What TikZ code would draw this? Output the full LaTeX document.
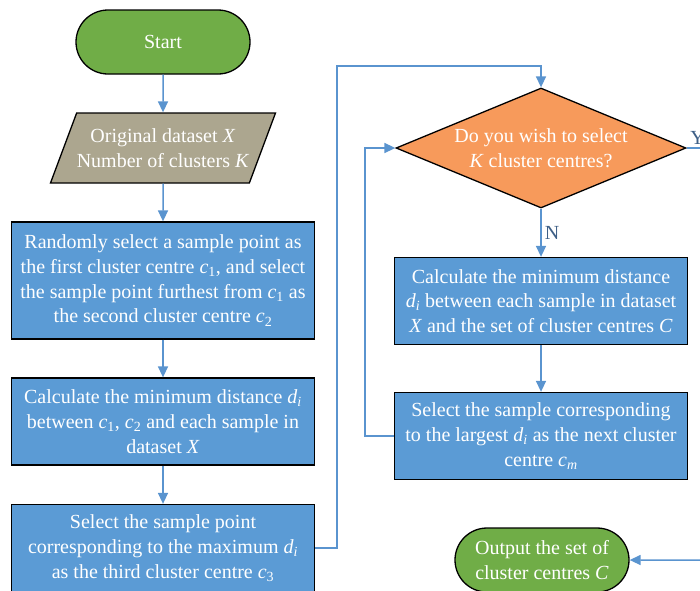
\documentclass[tikz,border=0pt]{standalone}
\usepackage{xcolor}
\usepackage{fontspec}
\setmainfont{Liberation Serif}
\usetikzlibrary{shapes.geometric, shapes.misc, arrows.meta}

\definecolor{termgreen}{HTML}{70AD47}
\definecolor{iotan}{HTML}{ACA68F}
\definecolor{procblue}{HTML}{5B9BD5}
\definecolor{askorange}{HTML}{F79A5B}
\definecolor{flowblue}{HTML}{5A94CF}
\definecolor{labblue}{HTML}{3E5F86}

\newcommand{\vi}[1]{\textit{#1}}
\newcommand{\vsub}[2]{\textit{#1}\textsubscript{#2}}

\begin{document}
\begin{tikzpicture}[x=1pt, y=-1pt,
		font=\fontsize{20}{24.7}\selectfont,
		box/.style={draw=black, line width=1.3pt, text=white, align=center, inner sep=0pt},
		term/.style={box, fill=termgreen, rounded rectangle, minimum width=174pt, minimum height=64pt},
		io/.style={box, fill=iotan, trapezium, trapezium left angle=56, trapezium right angle=124, trapezium stretches body, minimum width=225pt, minimum height=70pt},
		proc/.style={box, fill=procblue, rectangle, minimum width=303pt, minimum height=87pt},
		proc2/.style={proc, minimum width=293pt},
		ask/.style={draw=black, line width=1.3pt, fill=askorange, diamond, minimum width=290pt, minimum height=120pt, inner sep=0pt},
		flow/.style={draw=flowblue, line width=1.5pt, -{Triangle[length=11pt, width=10pt]}},
		line/.style={draw=flowblue, line width=1.5pt},
		lab/.style={text=labblue, inner sep=3pt}]
	\useasboundingbox (0,0) rectangle (700,590);
	\clip (0,0) rectangle (700,590);
	\node [term] (start) at (163,42) {Start};
	\node [io] (data) at (163,148) {Original dataset \vi{X}\\ Number of clusters \vi{K}};
	\node [proc, minimum height=117pt] (pick12) at (163,280.5) {Randomly select a sample point as\\ the first cluster centre \vsub{c}{1}, and select\\ the sample point furthest from \vsub{c}{1} as\\ the second cluster centre \vsub{c}{2}};
	\node [proc] (dist12) at (163,421.5) {Calculate the minimum distance \vsub{d}{\vi{i}}\\ between \vsub{c}{1}, \vsub{c}{2} and each sample in\\ dataset \vi{X}};
	\node [proc] (pick3) at (163,548) {Select the sample point\\ corresponding to the maximum \vsub{d}{\vi{i}}\\ as the third cluster centre \vsub{c}{3}};
	\node [ask, label={[text=white, align=center]center:{Do you wish to select\\ \vi{K} cluster centres?}}] (ask) at (541,148) {};
	\node [proc2] (dist) at (541,301) {Calculate the minimum distance\\ \vsub{d}{\vi{i}} between each sample in dataset\\ \vi{X} and the set of cluster centres \vi{C}};
	\node [proc2] (pickm) at (541,436) {Select the sample corresponding\\ to the largest \vsub{d}{\vi{i}} as the next cluster\\ centre \vsub{c}{\vi{m}}};
	\node [term] (out) at (542,560) {Output the set of\\ cluster centres \vi{C}};
	\coordinate (up) at (337,66);
	\coordinate (yes) at (720,148);
	\coordinate (fin) at (720,560);
	% main column
	\draw [flow] (start) -- (data);
	\draw [flow] (data) -- (pick12);
	\draw [flow] (pick12) -- (dist12);
	\draw [flow] (dist12) -- (pick3);
	\draw [flow] (pick3.east) -| (up) -| (ask.north);
	% loop
	\draw [flow] (ask) -- node [lab, right] {N} (dist);
	\draw [flow] (dist) -- (pickm);
	\draw [flow] (pickm.west) -- ++(-29,0) |- (ask.west);
	\draw [line] (ask.east) -- node [lab, above right, pos=0] {Y} (yes);
	\draw [flow] (fin) -- (out);
\end{tikzpicture}
\end{document}
